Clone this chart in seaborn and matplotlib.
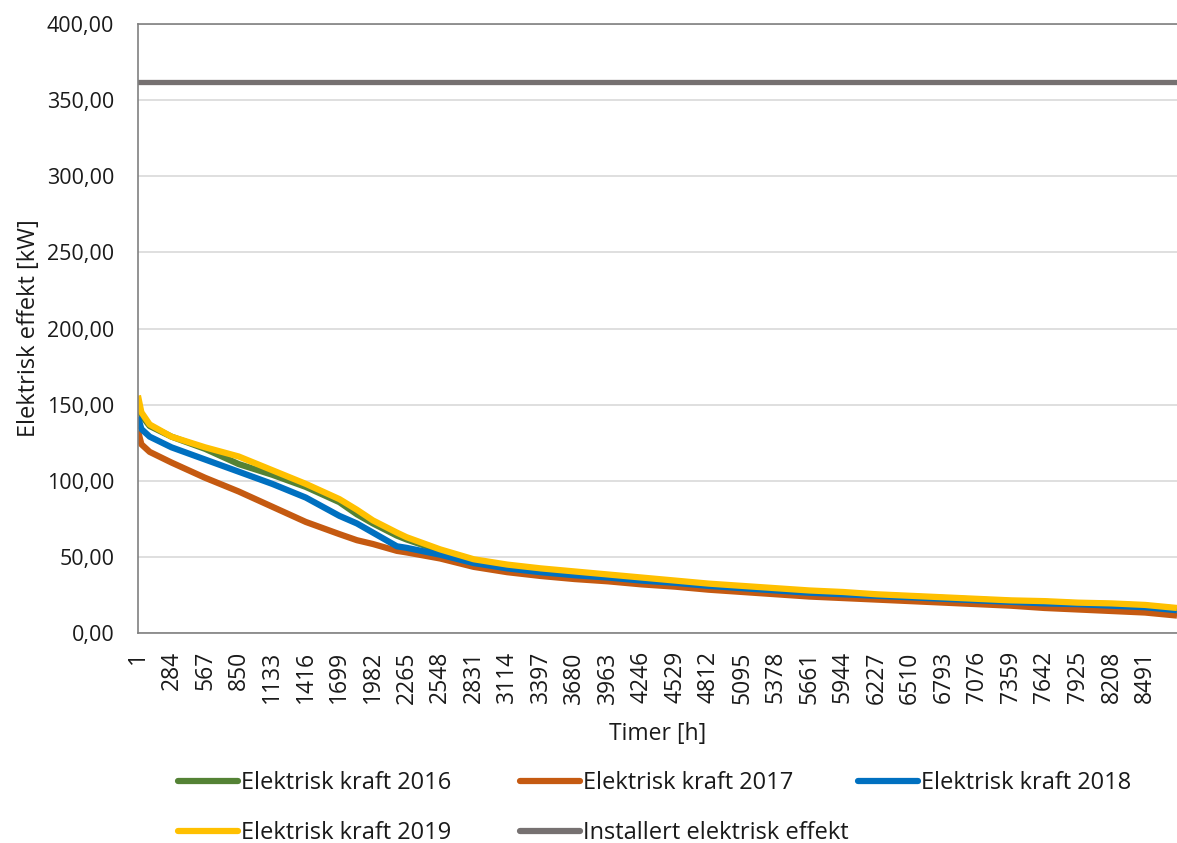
import matplotlib
matplotlib.use("Agg")
import matplotlib.pyplot as plt
from matplotlib.lines import Line2D
from matplotlib.ticker import FuncFormatter
import seaborn as sns
import pandas as pd

# Duration curves: hours sorted by descending electric load
hours = [1, 30, 100, 284, 567, 850, 1133, 1416, 1699, 1847, 1982, 2184, 2265,
         2548, 2831, 3114, 3397, 3680, 3963, 4246, 4529, 4812, 5095, 5378,
         5661, 5944, 6227, 6510, 6793, 7076, 7359, 7642, 7925, 8208, 8491, 8760]

kraft_2016 = [152, 143, 136, 129, 121, 111, 104, 96, 86, 78, 72, 64, 61.5,
              54, 48, 44, 41, 39, 37, 35, 33.5, 31.5, 30, 28.5,
              27, 26, 25, 24, 23, 22, 21, 20.5, 19.5, 19, 18, 16]
kraft_2017 = [133, 124, 119, 112, 102, 93, 83, 73, 65, 61, 58.5, 54, 53,
              49, 43.5, 40, 37.5, 35.5, 34, 32, 30.5, 28.5, 27, 25.5,
              24, 23, 22, 21, 20, 19, 18, 16.5, 15.5, 14.5, 13.5, 11.5]
kraft_2018 = [142, 134, 129, 122, 114, 106, 98, 89, 77, 72, 66, 57, 56,
              51.5, 46, 42.5, 40, 38, 36.5, 34.5, 33, 31, 29.5, 28,
              26.5, 25.5, 24.5, 23.5, 22.5, 21.5, 20.5, 19.5, 19, 18, 17, 15]
kraft_2019 = [156, 145, 137, 129, 122, 116, 107, 98, 88, 81, 74, 66, 63,
              55, 48.5, 45, 42.5, 40.5, 38.5, 36.5, 34.5, 32.5, 31, 29.5,
              28, 27, 25.5, 24.5, 23.5, 22.5, 21.5, 21, 20, 19.5, 18.5, 16.5]
installert = 362

series_names = ["Elektrisk kraft 2016", "Elektrisk kraft 2017",
                "Elektrisk kraft 2018", "Elektrisk kraft 2019"]
installed_name = "Installert elektrisk effekt"
tick_hours = list(range(1, 8760, 283))

colors = {
    "Elektrisk kraft 2016": "#548235",
    "Elektrisk kraft 2017": "#C55A11",
    "Elektrisk kraft 2018": "#0070C0",
    "Elektrisk kraft 2019": "#FFC000",
}
installed_color = "#767171"
text_color = "#1a1a1a"

frames = []
for name, vals in zip(series_names, [kraft_2016, kraft_2017, kraft_2018, kraft_2019]):
    frames.append(pd.DataFrame({"Timer": hours, "Effekt": vals, "Serie": name}))
df = pd.concat(frames, ignore_index=True)
df_inst = pd.DataFrame({"Timer": [1, 8760], "Effekt": [installert, installert]})

sns.set_theme(style="white")
plt.rcParams["font.family"] = ["Open Sans", "DejaVu Sans"]

W, H = 1177, 843
fig = plt.figure(figsize=(W / 100, H / 100), dpi=100)
ax = fig.add_axes([0.1172, 0.249, 0.8828, 0.7225])

lw = 4.5
sns.lineplot(data=df, x="Timer", y="Effekt", hue="Serie", hue_order=series_names,
             palette=colors, linewidth=lw, ax=ax, legend=False,
             solid_capstyle="butt")
sns.lineplot(data=df_inst, x="Timer", y="Effekt", color=installed_color,
             linewidth=3.8, ax=ax, legend=False)

ax.set_xlim(1, 8760)
ax.set_ylim(0, 400)
ax.set_yticks(range(0, 401, 50))
ax.yaxis.set_major_formatter(FuncFormatter(lambda v, p: f"{v:.2f}".replace(".", ",")))
ax.set_xticks(tick_hours)
ax.set_xticklabels([str(h) for h in tick_hours], rotation=90)
ax.tick_params(axis="y", labelsize=15.5, colors=text_color, length=0, pad=17)
ax.tick_params(axis="x", labelsize=16.5, colors=text_color, length=0, pad=13)

ax.grid(axis="y", color="#D9D9D9", linewidth=1.2)
ax.grid(axis="x", visible=False)
ax.set_axisbelow(True)
for side in ["left", "bottom", "top"]:
    ax.spines[side].set_color("#808080")
    ax.spines[side].set_linewidth(1.2)
ax.spines["right"].set_visible(False)

ax.set_xlabel("Timer [h]", fontsize=16.5, color=text_color, labelpad=13)
ax.set_ylabel("Elektrisk effekt [kW]", fontsize=17, color=text_color, labelpad=4)

def handle(c):
    return Line2D([0], [0], color=c, linewidth=lw, solid_capstyle="round")

# Legend laid out as a fixed grid: three cells on the first row, two on the second
legend_cells = [
    ("Elektrisk kraft 2016", colors["Elektrisk kraft 2016"], 178, 783),
    ("Elektrisk kraft 2017", colors["Elektrisk kraft 2017"], 520, 783),
    ("Elektrisk kraft 2018", colors["Elektrisk kraft 2018"], 858, 783),
    ("Elektrisk kraft 2019", colors["Elektrisk kraft 2019"], 178, 833),
    (installed_name, installed_color, 520, 833),
]
for label, c, px, py in legend_cells:
    leg = fig.legend([handle(c)], [label], loc="center left",
                     bbox_to_anchor=(px / W, 1 - py / H), frameon=False,
                     fontsize=17, handlelength=2.55, handletextpad=0.1,
                     borderpad=0, borderaxespad=0)
    for t in leg.get_texts():
        t.set_color(text_color)

fig.savefig("out.png", dpi=100)
